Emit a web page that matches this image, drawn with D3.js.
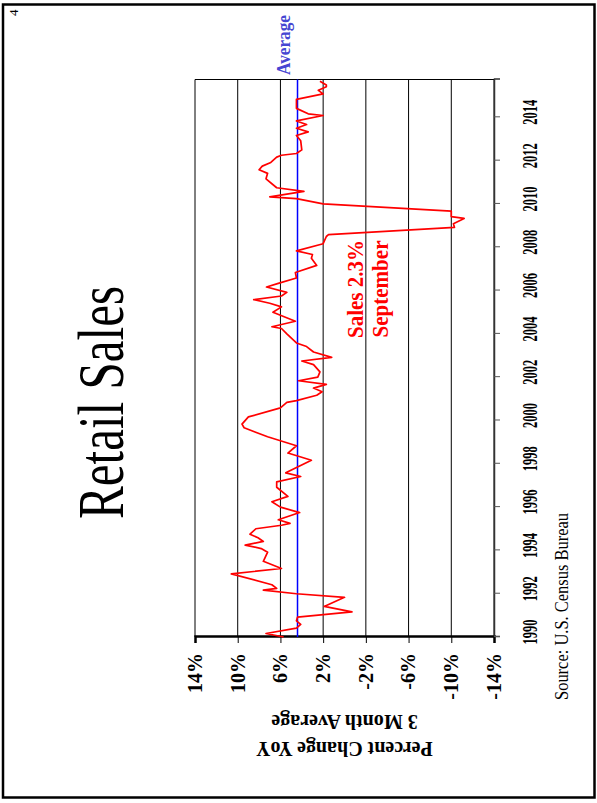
<!DOCTYPE html>
<meta charset="utf-8">
<style>
    body { margin: 0; background: #fff; }
    text { font-family: "Liberation Serif", "Times New Roman", serif; }
    .grid line { stroke: #000; stroke-width: 1; }
</style>
<body>
<script src="https://cdn.jsdelivr.net/npm/d3@7"></script>
<script>

    // monthly points (3 month avg, % change yoy)
    var months = ["1990-01","1990-03","1990-06","1990-08","1990-10","1990-12","1991-03","1991-06","1991-11",
        "1992-01","1992-03","1992-04","1992-06","1992-12","1993-03","1993-07","1993-12","1994-02","1994-04",
        "1994-06","1994-08","1994-10","1995-01","1995-03","1995-04","1995-06","1995-10","1996-01","1996-04",
        "1996-07","1996-12","1997-03","1997-06","1997-08","1998-03","1998-07","1998-11","1999-04","1999-09",
        "1999-11","2000-03","2000-08","2000-11","2000-12","2001-03","2001-05","2001-07","2001-09","2001-11",
        "2002-01","2002-04","2002-08","2002-10","2002-12","2003-03","2003-06","2003-08","2004-01","2004-04",
        "2004-05","2004-08","2005-01","2005-04","2005-06","2005-08","2005-10","2005-12","2006-03","2006-05",
        "2006-08","2006-11","2007-03","2007-07","2007-09","2007-11","2008-03","2008-07","2008-08","2008-12",
        "2009-02","2009-05","2009-06","2009-09","2010-01","2010-04","2010-05","2010-08","2010-10","2011-03",
        "2011-06","2011-08","2011-10","2011-12","2012-03","2012-04","2012-05","2012-07","2012-12","2013-03",
        "2013-05","2013-07","2013-09","2013-11","2014-02","2014-03","2014-06","2014-08","2014-11","2015-02",
        "2015-04","2015-06","2015-07","2015-09"];
    var values = [5.7,7.35,4.5,4.1,4.5,4.4,-0.7,1.9,0.0,
        4.5,7.6,6.35,6.8,10.6,5.9,7.6,7.2,7.8,9.3,
        7.6,8.1,8.85,8.3,5.9,5.1,6.2,4.2,6.0,6.8,
        5.3,6.35,6.35,4.1,5.5,3.1,5.3,4.5,7.2,9.4,
        9.6,9.0,6.0,5.4,4.5,2.6,2.1,2.9,1.7,4.3,
        2.5,2.3,2.9,4.0,1.2,2.9,3.55,4.5,5.4,5.9,
        6.8,4.6,6.7,5.9,7.0,8.5,5.9,5.4,7.3,6.2,
        4.5,4.6,2.6,3.1,3.0,4.5,2.0,1.7,1.5,-10.3,
        -10.2,-11.2,-10.0,-10.0,2.0,4.5,7.0,3.8,6.35,7.35,
        7.2,8.0,7.7,6.9,6.35,5.9,4.5,4.0,4.1,4.5,
        3.4,4.5,3.55,4.5,2.0,3.4,4.5,4.5,4.5,2.0,
        2.45,1.7,1.7,2.3];
    var yearTicks = [1990,1992,1994,1996,1998,2000,2002,2004,2006,2008,2010,2012,2014];
    var valueTicks = [14,10,6,2,-2,-6,-10,-14];
    var averageValue = 4.4;

    var width = 597,
        height = 803;

    var svg = d3.select("body").append("svg")
        .attr("width", width)
        .attr("height", height);

    // the slide is landscape, turned a quarter left on the page
    var page = svg.append("g")
        .attr("transform", "translate(0," + height + ") rotate(-90)");

    page.append("rect")
        .attr("x", 5.5).attr("y", 3)
        .attr("width", 793).attr("height", 591.5)
        .attr("fill", "none").attr("stroke", "#000").attr("stroke-width", 2.5);

    page.append("text")
        .attr("x", 787).attr("y", 18)
        .style("font-size", "13px")
        .text("4");

    page.append("text")
        .attr("x", 400.5).attr("y", 123)
        .attr("text-anchor", "middle")
        .attr("textLength", 233).attr("lengthAdjust", "spacingAndGlyphs")
        .style("font-size", "66px")
        .text("Retail Sales");

    var plotLeft = 166, plotRight = 723.5, plotTop = 195, plotBottom = 494;
    var parse = d3.timeParse("%Y-%m");

    var x = d3.scaleTime()
        .domain([new Date(1990, 0, 1), new Date(2015, 9, 1)])
        .range([plotLeft, plotRight]);
    var y = d3.scaleLinear()
        .domain([-14, 14])
        .range([plotBottom, plotTop]);

    // gridlines
    page.append("g").attr("class", "grid")
        .selectAll("line")
        .data(valueTicks)
        .enter().append("line")
        .attr("x1", plotLeft).attr("x2", plotRight)
        .attr("y1", function(d) { return y(d); })
        .attr("y2", function(d) { return y(d); });

    page.append("line")
        .attr("x1", plotRight).attr("x2", plotRight)
        .attr("y1", plotTop).attr("y2", plotBottom)
        .attr("stroke", "#000");

    // value axis
    var yAxis = page.append("g")
        .attr("transform", "translate(" + plotLeft + ",0)")
        .call(d3.axisLeft(y).tickValues(valueTicks).tickSize(6).tickPadding(10)
            .tickFormat(function(d) { return d + "%"; }));
    yAxis.select(".domain").attr("stroke-width", 2.5);
    yAxis.selectAll("text")
        .style("font-size", "20px").style("font-weight", "bold")
        .style("font-family", "'Liberation Serif', 'Times New Roman', serif");

    // time axis
    var xAxis = page.append("g")
        .attr("transform", "translate(0," + plotBottom + ")")
        .call(d3.axisBottom(x)
            .tickValues(yearTicks.map(function(d) { return new Date(d, 0, 1); }))
            .tickSize(6).tickFormat(d3.timeFormat("%Y")));
    xAxis.select(".domain").attr("stroke", "#333").attr("stroke-width", 1.5);
    xAxis.selectAll(".tick line").attr("stroke", "#555");
    xAxis.selectAll("text")
        .attr("y", 43).attr("dy", null).attr("x", 4.5)
        .attr("textLength", 25).attr("lengthAdjust", "spacingAndGlyphs")
        .style("font-size", "21px").style("font-weight", "bold")
        .style("font-family", "'Liberation Serif', 'Times New Roman', serif");

    // axis title
    var title = page.append("g")
        .style("font-size", "20px").style("font-weight", "bold")
        .attr("text-anchor", "middle");
    title.append("text")
        .attr("transform", "translate(61," + (plotTop + plotBottom) / 2 + ") rotate(-90)")
        .text("Percent Change YoY");
    title.append("text")
        .attr("transform", "translate(88," + (plotTop + plotBottom) / 2 + ") rotate(-90)")
        .text("3 Month Average");

    // average
    page.append("line")
        .attr("x1", plotLeft).attr("x2", plotRight)
        .attr("y1", y(averageValue)).attr("y2", y(averageValue))
        .attr("stroke", "#0000ff").attr("stroke-width", 1.5);
    page.append("text")
        .attr("x", 728).attr("y", y(averageValue) - 8)
        .attr("textLength", 60).attr("lengthAdjust", "spacingAndGlyphs")
        .style("font-size", "19px").style("font-weight", "bold")
        .attr("fill", "#4646d2")
        .text("Average");

    // sales line
    var line = d3.line()
        .x(function(d) { return x(d.date); })
        .y(function(d) { return y(d.value); });

    var data = months.map(function(m, i) { return {date: parse(m), value: values[i]}; });

    page.append("path")
        .datum(data)
        .attr("d", line)
        .attr("fill", "none")
        .attr("stroke", "#ff0000")
        .attr("stroke-width", 1.7)
        .attr("stroke-linejoin", "round");

    // note
    var note = page.append("g")
        .attr("fill", "#ff0000")
        .attr("text-anchor", "middle")
        .style("font-size", "24px").style("font-weight", "bold");
    note.append("text")
        .attr("x", 514).attr("y", 363)
        .attr("textLength", 98).attr("lengthAdjust", "spacingAndGlyphs")
        .text("Sales 2.3%");
    note.append("text")
        .attr("x", 514).attr("y", 388)
        .attr("textLength", 97).attr("lengthAdjust", "spacingAndGlyphs")
        .text("September");

    page.append("text")
        .attr("x", 103).attr("y", 568)
        .attr("textLength", 187).attr("lengthAdjust", "spacingAndGlyphs")
        .style("font-size", "19px")
        .text("Source: U.S. Census Bureau");

</script>
